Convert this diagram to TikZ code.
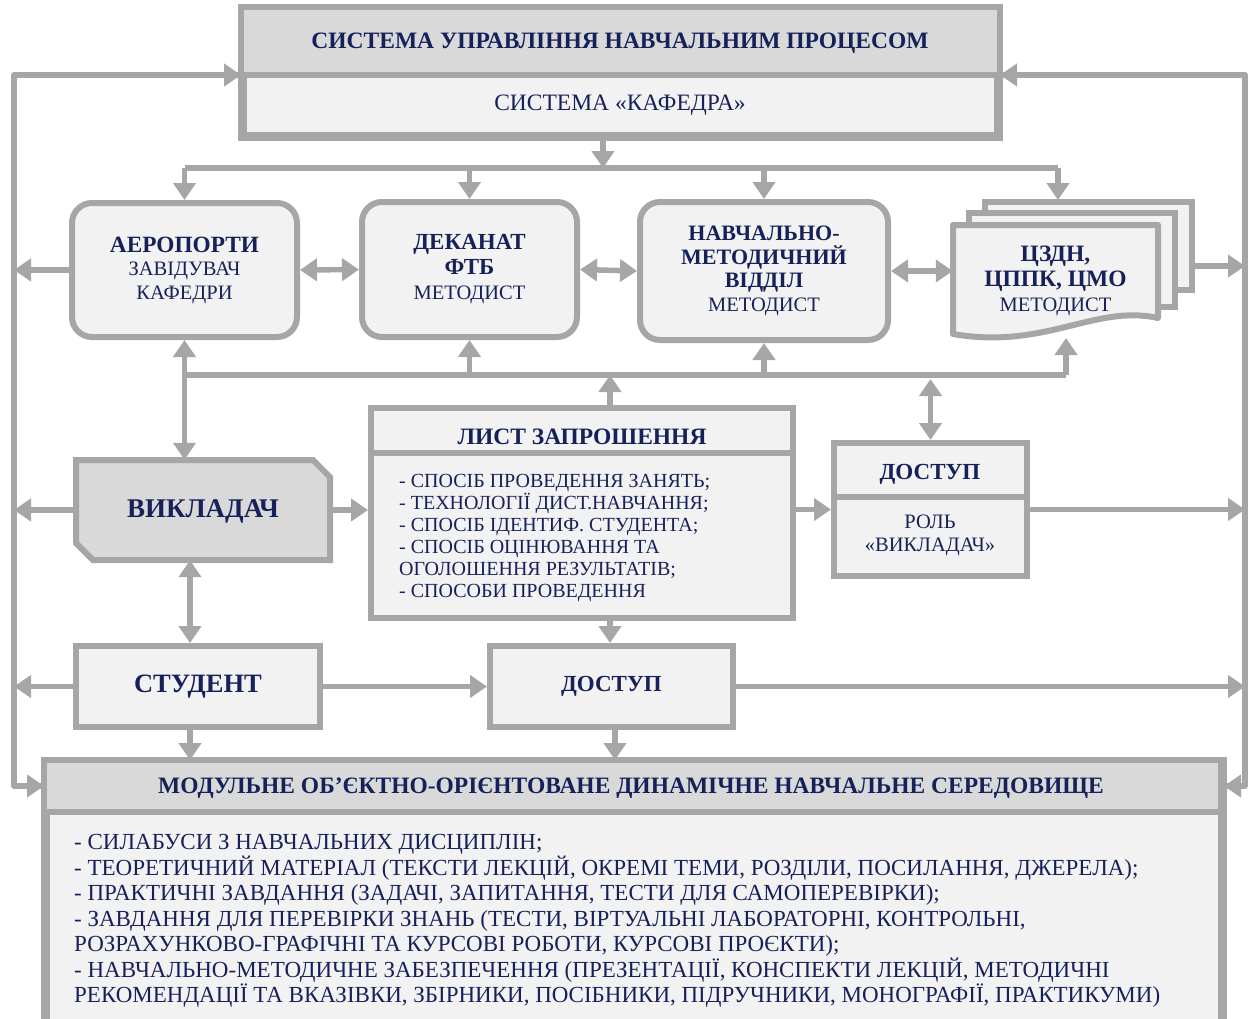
\documentclass[tikz,border=0pt]{standalone}
\usepackage{fontspec}
\setmainfont{Liberation Serif}
\usetikzlibrary{arrows.meta,calc}
\definecolor{ln}{HTML}{A6A6A6}
\definecolor{hd}{HTML}{D9D9D9}
\definecolor{bd}{HTML}{F2F2F2}
\definecolor{tx}{HTML}{16215A}
\begin{document}
\begin{tikzpicture}[x=1pt,y=-1pt,
  box/.style={draw=ln, line width=6pt, fill=bd, text=tx, inner sep=0pt, align=center},
  rbox/.style={box, rounded corners=20pt},
  lbl/.style={text=tx, inner sep=0pt, align=center},
  tip/.tip={Triangle[length=17pt,width=22pt]},
  conn/.style={draw=ln, line width=5.5pt, -tip},
  bi/.style={draw=ln, line width=5.5pt, tip-tip},
  wire/.style={draw=ln, line width=5.5pt},
  ttl/.style={font=\fontsize{23.5}{27}\selectfont\bfseries},
]
\useasboundingbox (0,0) rectangle (1250,1018);
\clip (0,0) rectangle (1250,1018);

% ---------- side rails ----------
\coordinate (L1) at (14,75);
\coordinate (L2) at (14,786);
\coordinate (R1) at (1245,75);
\coordinate (R2) at (1245,786);
\coordinate (b1) at (0,168);
\coordinate (b2) at (0,375);
\coordinate (lx) at (610,0);
\coordinate (vx) at (190,0);
\coordinate (mx) at (615,0);

% ---------- top system box ----------
\node[box, minimum width=753pt, minimum height=125pt] (sys) at (620.5,72.5) {};
\fill[hd] (sys.north west) rectangle (997,75);
\coordinate (sysmid) at (620,75);
\draw[draw=ln, line width=6pt] (sys.west |- sysmid) -- (sys.east |- sysmid);
\draw[draw=ln, line width=6pt] (sys.north west) rectangle (sys.south east);
\node[lbl, ttl] (sysT) at (620,43) {СИСТЕМА УПРАВЛІННЯ НАВЧАЛЬНИМ ПРОЦЕСОМ};
\node[lbl, font=\fontsize{23.5}{27}\selectfont] (sysS) at (620,105) {СИСТЕМА «КАФЕДРА»};

% ---------- row of units ----------
\node[rbox, minimum width=225pt, minimum height=134pt, font=\fontsize{20.5}{23.5}\selectfont] (aero) at (184.5,270)
  {\textbf{\fontsize{23.3}{23.5}\selectfont АЕРОПОРТИ}\\ЗАВІДУВАЧ\\КАФЕДРИ};
\node[rbox, minimum width=215pt, minimum height=135pt, font=\fontsize{20.5}{25}\selectfont] (dek) at (469.5,269.5)
  {\textbf{\fontsize{23}{25}\selectfont ДЕКАНАТ}\\\textbf{\fontsize{23}{25}\selectfont ФТБ}\\МЕТОДИСТ};
\node[rbox, minimum width=248pt, minimum height=138pt, font=\fontsize{20.5}{23.5}\selectfont] (nmv) at (764,271)
  {\textbf{\fontsize{22}{23.5}\selectfont НАВЧАЛЬНО-}\\\textbf{\fontsize{22}{23.5}\selectfont МЕТОДИЧНИЙ}\\\textbf{\fontsize{22}{23.5}\selectfont ВІДДІЛ}\\МЕТОДИСТ};

% document stack
\draw[draw=ln, line width=6pt, fill=bd] (985,202) rectangle (1192,290);
\draw[draw=ln, line width=6pt, fill=bd] (969,213) rectangle (1175,307);
\draw[draw=ln, line width=6pt, fill=bd, line join=round]
  (953,225) -- (1158,225) -- (1158,318) .. controls (1095,304) and (1045,350) .. (953,334) -- cycle;
\node[lbl, minimum width=205pt, minimum height=112pt, font=\fontsize{20.5}{25}\selectfont] (czdn) at (1055.5,281)
  {\textbf{\fontsize{23.5}{25}\selectfont ЦЗДН,}\\\textbf{\fontsize{23.5}{25}\selectfont ЦППК, ЦМО}\\МЕТОДИСТ};
\coordinate (czT) at (1058,200);
\coordinate (czB) at (1066,338);
\coordinate (czR) at (1192,266);

% ---------- bus from system ----------
\draw[conn] ([xshift=-17.5pt]sys.south) -- ([xshift=-17.5pt]sys.south |- b1);
\draw[wire] (aero.north |- b1) -- (czT |- b1);
\draw[conn] (aero.north |- b1) -- (aero.north);
\draw[conn] (dek.north |- b1) -- (dek.north);
\draw[conn] (nmv.north |- b1) -- (nmv.north);
\draw[conn] (czT |- b1) -- (czT);

% horizontal links in unit row
\draw[bi] (aero.east) -- (dek.west);
\draw[bi] (dek.east) -- (nmv.west);
\draw[bi] (nmv.east) -- (czdn.west |- nmv.east);
\draw[conn] (aero.west) -- (aero.west -| L1);
\draw[conn] (czR) -- (czR -| R1);

% ---------- teacher ----------
\node[lbl, minimum width=254pt, minimum height=100pt] (vykl) at (203,510) {};
\draw[draw=ln, line width=6pt, fill=hd, line join=miter]
  (76,460) -- (313,460) -- (330,477) -- (330,560) -- (93,560) -- (76,543) -- cycle;
\node[lbl, font=\fontsize{27}{30}\selectfont\bfseries] (vyklT) at (203,511) {ВИКЛАДАЧ};

% ---------- invitation sheet ----------
\node[box, minimum width=422pt, minimum height=210pt] (lyst) at (582,513) {};
\coordinate (lystmid) at (582,453);
\draw[draw=ln, line width=6pt] (lyst.west |- lystmid) -- (lyst.east |- lystmid);
\node[lbl, ttl] (lystT) at (582,437) {ЛИСТ ЗАПРОШЕННЯ};
\node[lbl, align=left, anchor=west, font=\fontsize{20}{22}\selectfont] (lystB) at (399,538)
  {- СПОСІБ ПРОВЕДЕННЯ ЗАНЯТЬ;\\
   - ТЕХНОЛОГІЇ ДИСТ.НАВЧАННЯ;\\
   - СПОСІБ ІДЕНТИФ. СТУДЕНТА;\\
   - СПОСІБ ОЦІНЮВАННЯ ТА\\
   ОГОЛОШЕННЯ РЕЗУЛЬТАТІВ;\\
   - СПОСОБИ ПРОВЕДЕННЯ};

% ---------- access (teacher role) ----------
\node[box, minimum width=193pt, minimum height=133pt] (dost1) at (930.5,509.5) {};
\coordinate (dmid) at (930,497);
\draw[draw=ln, line width=6pt] (dost1.west |- dmid) -- (dost1.east |- dmid);
\node[lbl, font=\fontsize{23}{27}\selectfont\bfseries] (dost1T) at (930,474) {ДОСТУП};
\node[lbl, font=\fontsize{20.5}{23}\selectfont] (dost1B) at (930,535) {РОЛЬ\\«ВИКЛАДАЧ»};

% ---------- student & access ----------
\node[box, minimum width=244pt, minimum height=81pt, font=\fontsize{26.5}{30}\selectfont\bfseries] (stud) at (198,686.5) {СТУДЕНТ};
\node[box, minimum width=243pt, minimum height=81pt, font=\fontsize{23}{27}\selectfont\bfseries] (dost2) at (611.5,686.5) {ДОСТУП};

% ---------- bottom environment ----------
\node[box, fill=bd, minimum width=1174pt, minimum height=290pt, anchor=north west] (mod) at (44,760) {};
\fill[hd] (mod.north west) rectangle (1218,812);
\coordinate (mmid) at (630,812);
\draw[draw=ln, line width=6pt] (mod.west |- mmid) -- (mod.east |- mmid);
\draw[draw=ln, line width=6pt] (mod.north west) rectangle (mod.south east);
\node[lbl, ttl] (modT) at (631,788) {МОДУЛЬНЕ ОБ’ЄКТНО-ОРІЄНТОВАНЕ ДИНАМІЧНЕ НАВЧАЛЬНЕ СЕРЕДОВИЩЕ};
\node[lbl, align=left, anchor=west, font=\fontsize{23}{25.5}\selectfont] (modB) at (74,921)
  {- СИЛАБУСИ З НАВЧАЛЬНИХ ДИСЦИПЛІН;\\
   - ТЕОРЕТИЧНИЙ МАТЕРІАЛ (ТЕКСТИ ЛЕКЦІЙ, ОКРЕМІ ТЕМИ, РОЗДІЛИ, ПОСИЛАННЯ, ДЖЕРЕЛА);\\
   - ПРАКТИЧНІ ЗАВДАННЯ (ЗАДАЧІ, ЗАПИТАННЯ, ТЕСТИ ДЛЯ САМОПЕРЕВІРКИ);\\
   - ЗАВДАННЯ ДЛЯ ПЕРЕВІРКИ ЗНАНЬ (ТЕСТИ, ВІРТУАЛЬНІ ЛАБОРАТОРНІ, КОНТРОЛЬНІ,\\
   РОЗРАХУНКОВО-ГРАФІЧНІ ТА КУРСОВІ РОБОТИ, КУРСОВІ ПРОЄКТИ);\\
   - НАВЧАЛЬНО-МЕТОДИЧНЕ ЗАБЕЗПЕЧЕННЯ (ПРЕЗЕНТАЦІЇ, КОНСПЕКТИ ЛЕКЦІЙ, МЕТОДИЧНІ\\
   РЕКОМЕНДАЦІЇ ТА ВКАЗІВКИ, ЗБІРНИКИ, ПОСІБНИКИ, ПІДРУЧНИКИ, МОНОГРАФІЇ, ПРАКТИКУМИ)};

% ---------- second bus ----------
\draw[wire] (aero.south |- b2) -- (czB |- b2);
\draw[bi] (aero.south) -- (aero.south |- vykl.north);
\draw[conn] (dek.south |- b2) -- (dek.south);
\draw[conn] (nmv.south |- b2) -- (nmv.south);
\draw[conn] (czB |- b2) -- (czB);
\draw[conn] (lyst.north -| lx) -- (lx |- b2);
\draw[bi] ([yshift=-4pt]dost1.north |- b2) -- (dost1.north);

% ---------- middle links ----------
\draw[conn] (vykl.east) -- (vykl.east -| lyst.west);
\draw[conn] (vykl.west) -- (vykl.west -| L1);
\draw[conn] (lyst.east |- dost1.west) -- (dost1.west);
\draw[conn] (dost1.east) -- (dost1.east -| R1);
\draw[bi] (vykl.south -| vx) -- (stud.north -| vx);
\draw[conn] (lyst.south -| lx) -- (dost2.north -| lx);
\draw[conn] (stud.east) -- (dost2.west);
\draw[conn] (stud.west) -- (stud.west -| L1);
\draw[conn] (dost2.east) -- (dost2.east -| R1);
\draw[conn] (stud.south -| vx) -- (mod.north -| vx);
\draw[conn] (dost2.south -| mx) -- (mod.north -| mx);

% ---------- rails ----------
\draw[wire, line join=round] (sys.west |- L1) -- (L1) -- (L2) -- (mod.west |- L2);
\draw[conn] (L1) -- (sys.west |- L1);
\draw[conn] (L2) -- (mod.west |- L2);
\draw[wire, line join=round] (sys.east |- R1) -- (R1) -- (R2) -- (mod.east |- R2);
\draw[conn] (R1) -- (sys.east |- R1);
\draw[conn] (R2) -- (mod.east |- R2);
\end{tikzpicture}
\end{document}
